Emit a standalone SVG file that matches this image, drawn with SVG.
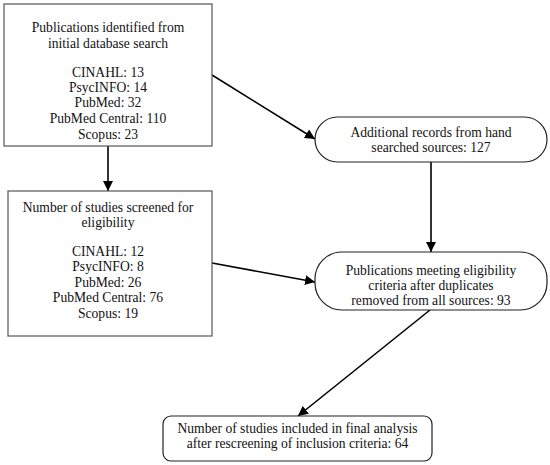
<svg xmlns="http://www.w3.org/2000/svg" width="550" height="465" viewBox="0 0 550 465">
<defs>
<marker id="ah" viewBox="0 0 10 10" refX="10" refY="5" markerWidth="10" markerHeight="10" markerUnits="userSpaceOnUse" orient="auto">
<path d="M0,0 L10,5 L0,10 z" fill="#000"/>
</marker>
<style>
.box{fill:#fff;stroke:#555;stroke-width:1.2}
.rbox{fill:#fff;stroke:#222;stroke-width:1.2}
.t{font-family:'Liberation Serif','Times New Roman',serif;font-size:13.6px;fill:#111;text-anchor:middle}
.edge{stroke:#000;stroke-width:1.6;fill:none;marker-end:url(#ah)}
</style>
</defs>
<rect width="550" height="465" fill="#fff"/>
<g id="connectors">
<line class="edge" x1="108" y1="146" x2="108" y2="191"/>
<line class="edge" x1="212" y1="75" x2="315" y2="139"/>
<line class="edge" x1="431" y1="162" x2="431" y2="252"/>
<line class="edge" x1="212" y1="263" x2="315" y2="282"/>
<line class="edge" x1="430" y1="310" x2="298" y2="416"/>
</g>
<g class="t">
<g id="n1">
<rect class="box" x="4" y="4" width="208" height="142"/>
<text x="108" y="32">Publications identified from</text>
<text x="108" y="48">initial database search</text>
<text x="108" y="77">CINAHL: 13</text>
<text x="108" y="92">PsycINFO: 14</text>
<text x="108" y="107">PubMed: 32</text>
<text x="108" y="123">PubMed Central: 110</text>
<text x="108" y="139">Scopus: 23</text>
</g>
<g id="n2">
<rect class="box" x="8" y="191" width="204" height="145"/>
<text x="108" y="212">Number of studies screened for</text>
<text x="108" y="227">eligibility</text>
<text x="108" y="256">CINAHL: 12</text>
<text x="108" y="271">PsycINFO: 8</text>
<text x="108" y="287">PubMed: 26</text>
<text x="108" y="302">PubMed Central: 76</text>
<text x="108" y="318">Scopus: 19</text>
</g>
<g id="n3">
<rect class="rbox" x="315" y="117" width="232" height="45" rx="22.5" ry="22.5"/>
<text x="431" y="137">Additional records from hand</text>
<text x="431" y="152">searched sources: 127</text>
</g>
<g id="n4">
<rect class="rbox" x="315" y="252" width="232" height="58" rx="27" ry="27"/>
<text x="431" y="275">Publications meeting eligibility</text>
<text x="431" y="290">criteria after duplicates</text>
<text x="431" y="305">removed from all sources: 93</text>
</g>
<g id="n5">
<rect class="rbox" x="163" y="416" width="269" height="45" rx="8" ry="8"/>
<text x="297.5" y="433">Number of studies included in final analysis</text>
<text x="297.5" y="448">after rescreening of inclusion criteria: 64</text>
</g>
</g>
</svg>
